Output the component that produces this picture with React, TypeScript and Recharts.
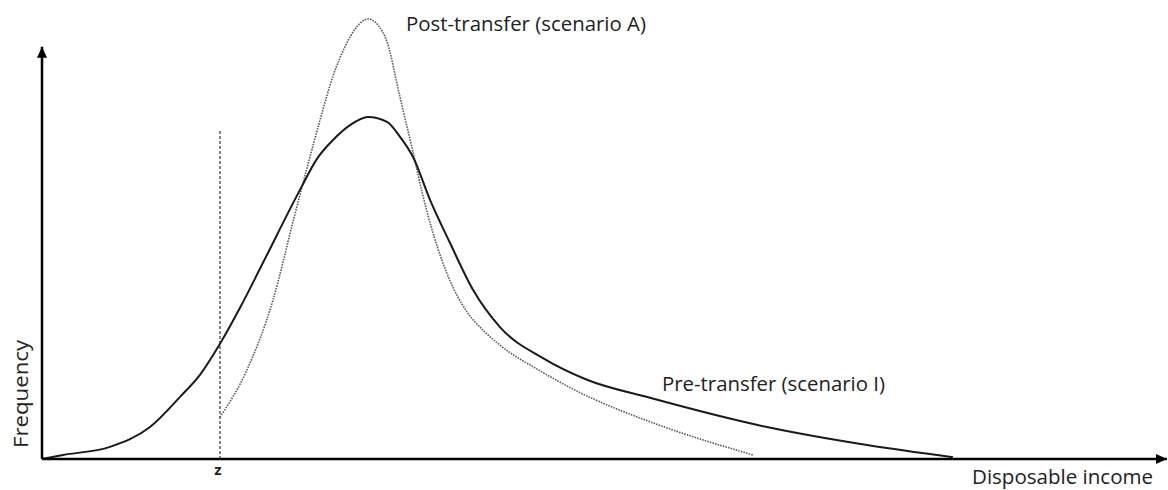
import React from 'react';
import { ComposedChart, Line, XAxis, YAxis, ReferenceLine, ReferenceDot } from 'recharts';

// Pre-transfer (scenario I): disposable income vs frequency
const preIncome = [0, 18.7, 60.4, 96.0, 122.7, 140.4, 158.2, 176.0, 196.4, 229.3, 244.4, 258.7, 273.8, 289.8, 306.7, 318.2, 329.8, 344.9, 362.7, 383.1, 407.1, 445.3, 484.4, 540.4, 644.4, 733.3, 809.8];
const preFreq = [0, 0.9, 2.7, 7.1, 13.8, 18.7, 25.6, 33.6, 43.6, 59.8, 66.7, 70.9, 74.2, 76.0, 74.9, 71.6, 67.1, 57.6, 48.0, 37.6, 29.3, 22.4, 17.6, 13.6, 7.1, 3.1, 0.4];

// Post-transfer (scenario A)
const postIncome = [158.2, 182.2, 205.3, 223.1, 235.6, 247.1, 258.7, 269.3, 279.1, 289.8, 298.7, 306.7, 318.2, 329.8, 338.7, 347.6, 362.7, 377.8, 393.8, 407.1, 442.7, 484.4, 496.0, 555.6, 632.0];
const postFreq = [9.3, 19.8, 35.3, 52.7, 64.7, 75.3, 85.1, 91.6, 95.8, 97.8, 96.4, 92.7, 80.4, 68.2, 58.4, 50.2, 39.6, 32.7, 28.2, 25.3, 19.6, 14.0, 12.7, 6.9, 0.9];

// Poverty line z
const zIncome = 158.2;
const zTop = 73.1;

// Axis extents
const xMax = 1000;
const yAxisTop = 91.6;

const preData = preIncome.map((x, i) => ({ income: x, freq: preFreq[i] }));
const postData = postIncome.map((x, i) => ({ income: x, freq: postFreq[i] }));

const FONT = '"Open Sans", "Liberation Sans", Arial, sans-serif';

const ArrowRight = (p: any) => (
  <polygon points={`${p.cx},${p.cy} ${p.cx - 11},${p.cy - 5} ${p.cx - 11},${p.cy + 5}`} fill="#000" />
);
const ArrowUp = (p: any) => (
  <polygon points={`${p.cx},${p.cy} ${p.cx - 5},${p.cy + 11} ${p.cx + 5},${p.cy + 11}`} fill="#000" />
);

export default function App() {
  return (
    <div style={{ position: 'absolute', left: 0, top: 0, width: 1168, height: 490, background: '#fff' }}>
      <ComposedChart width={1168} height={490} margin={{ top: 9, right: 1, bottom: 31, left: 42 }}>
        <XAxis type="number" dataKey="income" domain={[0, xMax]} hide />
        <YAxis type="number" domain={[0, 100]} hide />
        <ReferenceLine
          segment={[{ x: zIncome, y: 0 }, { x: zIncome, y: zTop }]}
          stroke="#333"
          strokeWidth={1.2}
          strokeDasharray="3 2"
        />
        <Line
          data={postData}
          dataKey="freq"
          type="monotone"
          stroke="#555"
          strokeWidth={1.6}
          strokeDasharray="1.5 1.2"
          dot={false}
          isAnimationActive={false}
        />
        <Line
          data={preData}
          dataKey="freq"
          type="monotone"
          stroke="#1a1a1a"
          strokeWidth={2}
          dot={false}
          isAnimationActive={false}
        />
        <ReferenceLine segment={[{ x: 0, y: 0 }, { x: xMax, y: 0 }]} stroke="#000" strokeWidth={2.5} />
        <ReferenceLine segment={[{ x: 0, y: 0 }, { x: 0, y: yAxisTop }]} stroke="#000" strokeWidth={2.5} />
        <ReferenceDot x={xMax} y={0} r={0} shape={ArrowRight} />
        <ReferenceDot x={0} y={yAxisTop} r={0} shape={ArrowUp} />
      </ComposedChart>
      <svg width={1168} height={490} style={{ position: 'absolute', left: 0, top: 0, pointerEvents: 'none' }}>
        <g fontFamily={FONT} fill="#222" fontSize={20}>
          <text x={406} y={31} textLength={240} lengthAdjust="spacingAndGlyphs">Post-transfer (scenario A)</text>
          <text x={662} y={391} textLength={223} lengthAdjust="spacingAndGlyphs">Pre-transfer (scenario I)</text>
          <text x={972} y={484} textLength={181} lengthAdjust="spacingAndGlyphs">Disposable income</text>
          <text transform="translate(28,394) rotate(-90)" textAnchor="middle" textLength={108} lengthAdjust="spacingAndGlyphs">Frequency</text>
          <text x={218} y={475} textAnchor="middle" fontSize={15} fontWeight="bold">z</text>
        </g>
      </svg>
    </div>
  );
}
